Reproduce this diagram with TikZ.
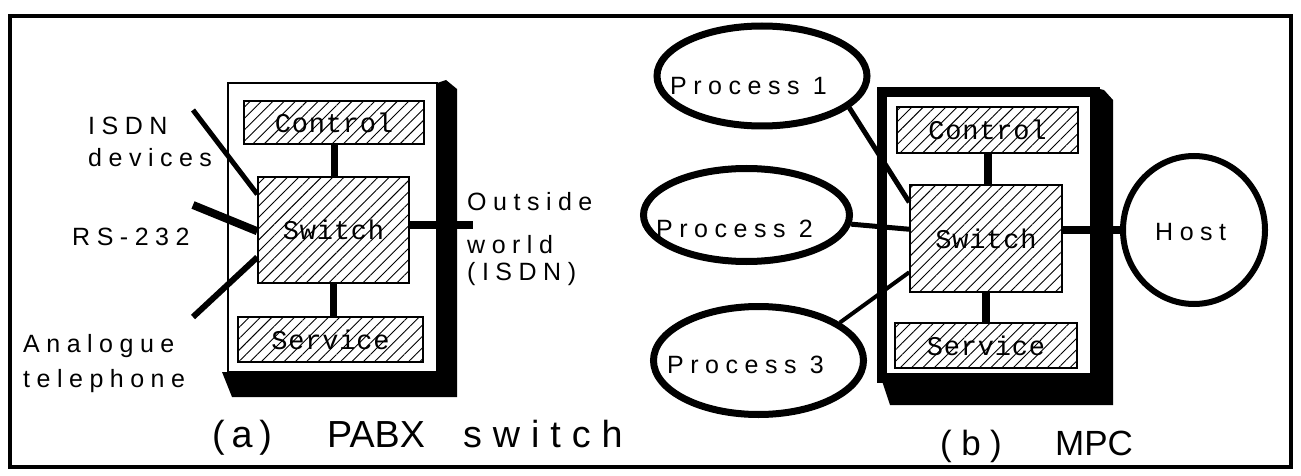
\documentclass[tikz,border=0pt]{standalone}
\usepackage{fontspec}
\setmainfont{Liberation Sans}
\newfontfamily\lblfont[LetterSpace=26]{Liberation Sans}
\newfontfamily\capfont{Liberation Sans}
\newfontfamily\boxmono[LetterSpace=3]{Liberation Mono}
\usetikzlibrary{patterns.meta,shapes.geometric,calc}
\begin{document}
\begin{tikzpicture}[x=1pt,y=-1pt,
  hatchbox/.style={draw, line width=1.5pt, pattern={Lines[angle=45,distance=8pt,line width=0.9pt]}, inner sep=0pt, font=\boxmono\fontsize{27}{27}\selectfont},
  lbl/.style={anchor=base west, inner sep=0pt, font=\lblfont\fontsize{25}{25}\selectfont},
  capa/.style={anchor=base west, inner sep=0pt, font=\capfont\fontsize{37.7}{40}\selectfont},
  capb/.style={anchor=base west, inner sep=0pt, font=\capfont\fontsize{35}{38}\selectfont},
  proc/.style={draw, ellipse, line width=7pt, inner sep=0pt},
  wire/.style={line width=8pt},
  cabinet/.style={draw, fill=white, inner sep=0pt}
]
\useasboundingbox (0,0) rectangle (1301,476);
\draw[line width=4pt] (10,16) rectangle (1291,467);

% ---------- (a) PABX ----------
\fill (222,372) -- (437,372) -- (437,83) -- (446,80) -- (457,89) -- (457,397) -- (232,397) -- cycle;
\node[cabinet, line width=1.5pt, minimum width=209pt, minimum height=289pt] (pabx) at (332.5,227.5) {};
\node[hatchbox, minimum width=180pt, minimum height=43pt] (pctl) at (334,122.5) {Control};
\node[hatchbox, minimum width=151pt, minimum height=106pt] (psw) at (333.5,230) {Switch};
\node[hatchbox, minimum width=185pt, minimum height=45pt] (psvc) at (330.5,339.5) {Service};
\draw[line width=7pt] (pctl.south) -- (pctl.south |- psw.north);
\draw[line width=7pt] (psw.south) -- (psw.south |- psvc.north);
\coordinate (pout) at (473,225);
\draw[wire] ([yshift=5pt]psw.east) -- (pout);
\coordinate (isdnend) at (193,110);
\coordinate (rsend) at (193,205);
\coordinate (anaend) at (193,317);
\draw[line width=5pt] (isdnend) -- ([yshift=-18pt]psw.north west);
\draw[line width=8pt] (rsend) -- ([yshift=-55pt]psw.north west);
\draw[line width=6pt] (anaend) -- ([yshift=-81pt]psw.north west);

\node[lbl] (lisdn) at (88,135) {ISDN};
\node[lbl] (ldev) at (88,167) {devices};
\node[lbl] (lrs) at (72,245) {RS-232};
\node[lbl] (lana) at (23,352) {Analogue};
\node[lbl] (ltel) at (23,387) {telephone};
\node[lbl] (lout) at (467,210) {Outside};
\node[lbl] (lworld) at (467,253) {world};
\node[lbl] (lisdn2) at (467,280) {(ISDN)};

\node[capa] (ca1) at (212,447) {\addfontfeature{LetterSpace=18}(a)};
\node[capa] (ca2) at (327,447) {PABX};
\node[capa] (ca3) at (463,447) {\addfontfeature{LetterSpace=29}switch};

% ---------- (b) MPC ----------
\fill (880,375) -- (1095,375) -- (1095,88) -- (1104,90) -- (1113,100) -- (1113,405) -- (890,405) -- cycle;
\node[cabinet, line width=10pt, minimum width=213pt, minimum height=286pt] (mpc) at (988.5,235) {};
\node[hatchbox, minimum width=181pt, minimum height=46pt] (mctl) at (987.5,130) {Control};
\node[hatchbox, minimum width=152pt, minimum height=107pt] (msw) at (986,238.5) {Switch};
\node[hatchbox, minimum width=182pt, minimum height=45pt] (msvc) at (986,345.5) {Service};
\draw[wire] (mctl.south) -- (mctl.south |- msw.north);
\draw[wire] (msw.south) -- (msw.south |- msvc.north);

\node[proc, minimum width=210pt, minimum height=100pt] (p1) at (762,76) {};
\node[lbl] (p1t) at (670,95) {Process 1};
\node[proc, minimum width=206pt, minimum height=93pt] (p2) at (746.5,215) {};
\node[lbl] (p2t) at (656,237) {Process 2};
\node[proc, minimum width=210pt, minimum height=108pt] (p3) at (758.5,360.5) {};
\node[lbl] (p3t) at (667,373) {Process 3};
\node[proc, line width=6pt, minimum width=142pt, minimum height=148pt] (host) at (1194,230) {};
\node[lbl] (hostt) at (1155,240) {Host};

\draw[line width=5pt] (p1.-20) -- ([yshift=-18pt]msw.north west);
\draw[line width=5pt] (p2) -- ([yshift=-45pt]msw.north west);
\draw[line width=4pt] (p3.25) -- ([yshift=-88pt]msw.north west);
\draw[wire] (msw.east |- host) -- (host);

\node[capb] (cb1) at (940,455) {\addfontfeature{LetterSpace=27}(b)};
\node[capb] (cb2) at (1055,455) {MPC};
\end{tikzpicture}
\end{document}
